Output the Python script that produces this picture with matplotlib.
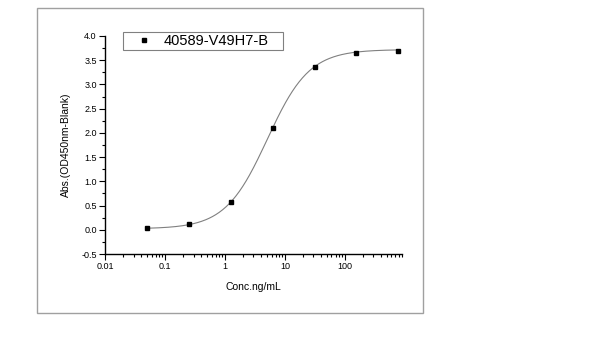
import numpy as np
import matplotlib
matplotlib.use('Agg')
import matplotlib.pyplot as plt
from matplotlib.patches import Rectangle
from matplotlib.ticker import LogLocator, MultipleLocator, FixedLocator, FixedFormatter

plt.rcParams['font.family'] = ['Liberation Sans', 'DejaVu Sans']

# measured points
conc = [0.05, 0.25, 1.25, 6.25, 31.25, 156.25, 781.25]
absorb = [0.03, 0.12, 0.57, 2.11, 3.37, 3.64, 3.69]
series_name = '40589-V49H7-B'

# 4-parameter logistic fit
fit_bottom = 0.02
fit_top = 3.72
fit_ec50 = 5.1
fit_hill = 1.24

y_ticks = [-0.5, 0.0, 0.5, 1.0, 1.5, 2.0, 2.5, 3.0, 3.5, 4.0]
x_ticks = [0.01, 0.1, 1, 10, 100]
x_tick_labels = ['0.01', '0.1', '1', '10', '100']

fig = plt.figure(figsize=(6, 3.38), dpi=100)
fig.patches.append(Rectangle((37 / 600, 1 - 313 / 338), 386 / 600, 305 / 338,
                             transform=fig.transFigure, fill=False,
                             edgecolor='#a0a0a0', linewidth=1.0))

ax = fig.add_axes([0.175, 0.2485, 0.495, 0.645])

xs = np.logspace(np.log10(conc[0]), np.log10(conc[-1]), 300)
ys = fit_top + (fit_bottom - fit_top) / (1 + (xs / fit_ec50) ** fit_hill)
ax.plot(xs, ys, color='#808080', linewidth=0.8)
ax.plot(conc, absorb, linestyle='none', marker='s', markersize=3.5,
        color='black', label=series_name)

ax.set_xscale('log')
ax.set_xlim(0.01, 900)
ax.set_ylim(-0.5, 4.0)
ax.xaxis.set_major_locator(FixedLocator(x_ticks))
ax.xaxis.set_major_formatter(FixedFormatter(x_tick_labels))
ax.xaxis.set_minor_locator(LogLocator(base=10, subs=np.arange(2, 10)))
ax.yaxis.set_major_locator(FixedLocator(y_ticks))
ax.set_yticklabels(['%.1f' % v for v in y_ticks])
ax.yaxis.set_minor_locator(MultipleLocator(0.25))

for side in ['top', 'right']:
    ax.spines[side].set_visible(False)
for side in ['left', 'bottom']:
    ax.spines[side].set_linewidth(1.0)

ax.tick_params(which='major', direction='out', length=4, width=0.8, labelsize=6.5, pad=2)
ax.tick_params(which='minor', direction='out', length=2, width=0.8)

ax.set_xlabel('Conc.ng/mL', fontsize=7.5, labelpad=8)
ax.set_ylabel('Abs.(OD450nm-Blank)', fontsize=7.5, labelpad=7)

leg = ax.legend(loc='upper left', bbox_to_anchor=(0.061, 0.9, 0.539, 0.118),
                mode='expand', fontsize=10.5,
                frameon=True, fancybox=False, edgecolor='#606060',
                handlelength=2.5, handletextpad=0.15, borderpad=0.15,
                borderaxespad=0)
leg.get_frame().set_linewidth(0.8)

fig.savefig('out.png', dpi=100)
